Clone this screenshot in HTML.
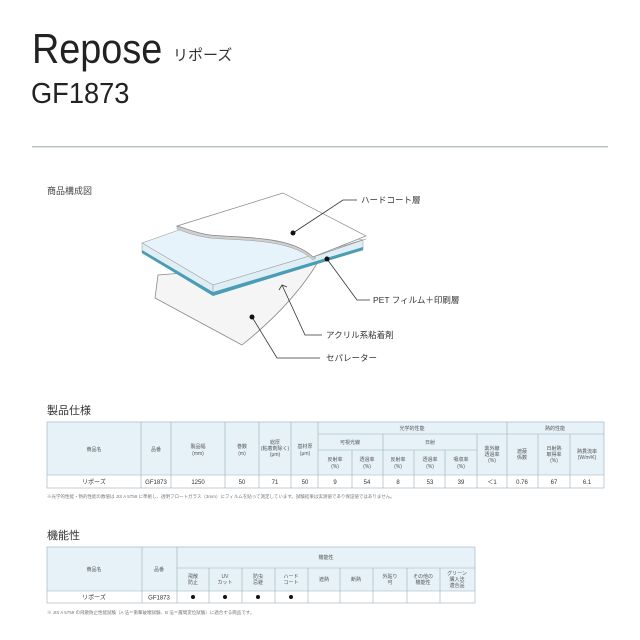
<!DOCTYPE html>
<html><head><meta charset="utf-8"><style>
html,body{margin:0;padding:0;background:#fff;}
svg{display:block;font-family:"Liberation Sans","Noto Sans CJK JP",sans-serif;}
</style></head><body>
<svg width="640" height="640" viewBox="0 0 640 640" xmlns="http://www.w3.org/2000/svg">
<text x="32" y="63" font-size="42" fill="#222" transform="translate(32 0) scale(0.9 1) translate(-32 0)">Repose</text>
<text x="173" y="60" font-size="15" fill="#333">リポーズ</text>
<text x="31" y="103" font-size="29" fill="#222" transform="translate(31 0) scale(0.94 1) translate(-31 0)">GF1873</text>
<rect x="32" y="146" width="576" height="1.5" fill="#b8c4c4"/>
<text x="47" y="194" font-size="9" fill="#444">商品構成図</text>

<path d="M158,275 L318,262 Q292,305 242,345 L155,298 Z" fill="#f5f5f5" stroke="#8a8a8a" stroke-width="0.8"/>
<polygon points="142,243 230,212 363,240 213,285" fill="#e6f3fa" stroke="#999" stroke-width="0.6"/>
<polygon points="142,243 213,285 213,295 142,253" fill="#dfeef5" stroke="#999" stroke-width="0.5"/>
<polygon points="213,285 363,240 363,250 213,295" fill="#dfeef5" stroke="#999" stroke-width="0.5"/>
<polygon points="142,250 213,292 363,247 363,250 213,296 142,253" fill="#4a9db5"/>
<path d="M177,229 C185,232 195,236 210,238 C240,241 290,238 313,260 L316,258 C292,236 240,238 210,235 C195,233 185,228 177,226 Z" fill="#cfcfcf" stroke="#999" stroke-width="0.5"/>
<path d="M177,226 L283,193 L366,236 L313,257 C290,235 240,238 210,235 C195,233 185,228 177,226 Z" fill="#fff" stroke="#888" stroke-width="0.7"/>
<line x1="313" y1="257" x2="366" y2="239" stroke="#888" stroke-width="0.6"/>

<g stroke="#333" stroke-width="0.8" fill="none">
<polyline points="293,233 343,200 357,200"/>
<polyline points="327,259 357,300 370,300"/>
<polyline points="282,285 305,335 322,335"/>
<polyline points="252,317 277,358 320,358"/>
<polyline points="279,290 282,285 287,287"/>
</g>
<circle cx="293" cy="233" r="2.5" fill="#111"/>
<circle cx="327" cy="259" r="2.5" fill="#111"/>
<circle cx="252" cy="317" r="2.5" fill="#111"/>
<g font-size="8.5" fill="#333">
<text x="361" y="203">ハードコート層</text>
<text x="373" y="303">PET フィルム＋印刷層</text>
<text x="326" y="338">アクリル系粘着剤</text>
<text x="326" y="361">セパレーター</text>
</g>

<text x="47" y="414" font-size="11" fill="#333">製品仕様</text>
<rect x="47" y="422" width="557" height="53" fill="#e6f2f8"/>
<rect x="47" y="475" width="557" height="13" fill="#fff"/>
<g stroke="#9aaeb8" stroke-width="0.6" fill="none">
<rect x="47" y="422" width="557" height="66"/>
<line x1="47" y1="475" x2="604" y2="475"/>
<line x1="318" y1="434" x2="604" y2="434"/>
<line x1="318" y1="450" x2="477" y2="450"/>
<line x1="141" y1="422" x2="141" y2="488"/><line x1="171" y1="422" x2="171" y2="488"/>
<line x1="225" y1="422" x2="225" y2="488"/><line x1="259" y1="422" x2="259" y2="488"/>
<line x1="291" y1="422" x2="291" y2="488"/><line x1="318" y1="422" x2="318" y2="488"/>
<line x1="352" y1="450" x2="352" y2="488"/><line x1="383" y1="434" x2="383" y2="488"/>
<line x1="414" y1="450" x2="414" y2="488"/><line x1="445" y1="450" x2="445" y2="488"/>
<line x1="477" y1="434" x2="477" y2="488"/><line x1="507" y1="422" x2="507" y2="488"/>
<line x1="538" y1="434" x2="538" y2="488"/><line x1="570" y1="434" x2="570" y2="488"/>
</g>
<g font-size="5" fill="#555" text-anchor="middle">
<text x="94" y="451">商品名</text><text x="156" y="451">品番</text>
<text x="198" y="448">製品幅</text><text x="198" y="455">(mm)</text>
<text x="242" y="448">巻数</text><text x="242" y="455">(m)</text>
<text x="275" y="444">総厚</text><text x="275" y="450">(粘着剤除く)</text><text x="275" y="456">(μm)</text>
<text x="305" y="448">基材厚</text><text x="305" y="455">(μm)</text>
<text x="412" y="430">光学的性能</text><text x="555" y="430">熱的性能</text>
<text x="350" y="444">可視光線</text><text x="430" y="444">日射</text>
<text x="335" y="461">反射率</text><text x="335" y="468">(%)</text>
<text x="367" y="461">透過率</text><text x="367" y="468">(%)</text>
<text x="398" y="461">反射率</text><text x="398" y="468">(%)</text>
<text x="430" y="461">透過率</text><text x="430" y="468">(%)</text>
<text x="461" y="461">吸収率</text><text x="461" y="468">(%)</text>
<text x="492" y="450">紫外線</text><text x="492" y="456">透過率</text><text x="492" y="462">(%)</text>
<text x="522" y="453">遮蔽</text><text x="522" y="459">係数</text>
<text x="554" y="450">日射熱</text><text x="554" y="456">取得率</text><text x="554" y="462">(%)</text>
<text x="587" y="453">熱貫流率</text><text x="587" y="459">(W/m²K)</text>
</g>
<g font-size="6" fill="#333" text-anchor="middle">
<text x="94" y="484">リポーズ</text><text x="156" y="484">GF1873</text><text x="198" y="484">1250</text>
<text x="242" y="484">50</text><text x="275" y="484">71</text><text x="305" y="484">50</text>
<text x="335" y="484">9</text><text x="367" y="484">54</text><text x="398" y="484">8</text>
<text x="430" y="484">53</text><text x="461" y="484">39</text><text x="492" y="484">＜1</text>
<text x="522" y="484">0.76</text><text x="554" y="484">67</text><text x="587" y="484">6.1</text>
</g>
<text x="47" y="498" font-size="4.5" fill="#777">※光学的性能・熱的性能の数値は JIS A 5759 に準拠し、透明フロートガラス（3mm）にフィルムを貼って測定しています。試験結果は実測値であり保証値ではありません。</text>

<text x="47" y="539" font-size="11" fill="#333">機能性</text>
<rect x="47" y="547" width="428" height="44" fill="#e6f2f8"/>
<g stroke="#9aaeb8" stroke-width="0.6" fill="none">
<rect x="47" y="547" width="428" height="56"/>
<line x1="47" y1="591" x2="475" y2="591"/>
<line x1="177" y1="568" x2="475" y2="568"/>
<line x1="142" y1="547" x2="142" y2="603"/><line x1="177" y1="547" x2="177" y2="603"/>
<line x1="209" y1="568" x2="209" y2="603"/><line x1="242" y1="568" x2="242" y2="603"/>
<line x1="275" y1="568" x2="275" y2="603"/><line x1="308" y1="568" x2="308" y2="603"/>
<line x1="340" y1="568" x2="340" y2="603"/><line x1="373" y1="568" x2="373" y2="603"/>
<line x1="407" y1="568" x2="407" y2="603"/><line x1="440" y1="568" x2="440" y2="603"/>
</g>
<g font-size="5" fill="#555" text-anchor="middle">
<text x="94" y="571">商品名</text><text x="159" y="571">品番</text>
<text x="326" y="559">機能性</text>
<text x="193" y="578">飛散</text><text x="193" y="584">防止</text>
<text x="225" y="578">UV</text><text x="225" y="584">カット</text>
<text x="258" y="578">防虫</text><text x="258" y="584">忌避</text>
<text x="291" y="578">ハード</text><text x="291" y="584">コート</text>
<text x="324" y="581">遮熱</text><text x="356" y="581">断熱</text>
<text x="390" y="578">外貼り</text><text x="390" y="584">可</text>
<text x="423" y="578">その他の</text><text x="423" y="584">機能性</text>
<text x="457" y="575">グリーン</text><text x="457" y="581">購入法</text><text x="457" y="587">適合品</text>
</g>
<g font-size="6" fill="#333" text-anchor="middle">
<text x="94" y="599.5">リポーズ</text><text x="159" y="599.5">GF1873</text>
</g>
<g fill="#111"><circle cx="193" cy="597" r="2"/><circle cx="225" cy="597" r="2"/><circle cx="258" cy="597" r="2"/><circle cx="291" cy="597" r="2"/></g>
<text x="47" y="614" font-size="4.5" fill="#777">※ JIS A 5759 の飛散防止性能試験（A 法＝衝撃破壊試験、B 法＝層間変位試験）に適合する商品です。</text>
</svg>
</body></html>
